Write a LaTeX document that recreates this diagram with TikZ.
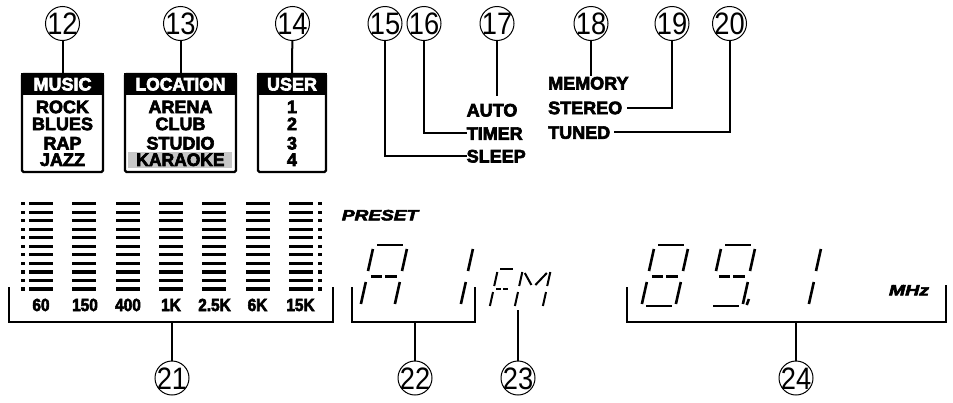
\documentclass[tikz,border=0pt]{standalone}
\usepackage{fontspec}
\setmainfont{Liberation Sans}
\newfontfamily\heavy{Liberation Sans}[UprightFont={* Bold},ItalicFont={* Bold Italic},FakeBold=3.5]
\newcommand\cnum[1]{\makebox[0pt]{\scalebox{0.88}[1]{#1}}}
\newcommand\sxx[2]{\scalebox{#1}[1]{#2}}
% seven-segment pieces (local units: u right, v up)
\newcommand\dsA{\draw (4,61)--(30,61);}
\newcommand\dsB{\draw (34.5,57)--(34,35);}
\newcommand\dsC{\draw (34,24)--(33.5,2);}
\newcommand\dsD{\draw (4,0)--(30,0);}
\newcommand\dsE{\draw (0,24)--(-0.5,2);}
\newcommand\dsF{\draw (0.5,57)--(0,35);}
\newcommand\dsG{\draw (4,29.5)--(15.5,29.5) (18.5,29.5)--(30,29.5);}
\begin{document}
\begin{tikzpicture}[x=1pt,y=-1pt,
  lead/.style={line width=2pt},
  circ/.style={draw, circle, line width=1pt, minimum size=34pt, inner sep=0pt,
    text height=22pt, text depth=0pt, font=\fontsize{31}{31}\selectfont},
  lbl/.style={inner sep=0pt, text height=12.9pt, text depth=0pt,
    font=\heavy\fontsize{18}{18}\selectfont},
  hdr/.style={lbl, text=white},
  eq/.style={inner sep=0pt, text height=12pt, text depth=0pt,
    font=\heavy\fontsize{17.5}{17.5}\selectfont},
  ital/.style={inner sep=0pt, text height=10.7pt, text depth=0pt,
    font=\heavy\itshape\fontsize{15}{15}\selectfont},
  catbox/.style={draw, line width=2.4pt, rounded corners=1.5pt, inner sep=0pt},
  segs/.style={line width=2.6pt},
  ssegs/.style={line width=2pt}]
\useasboundingbox (0,0) rectangle (953,402);

% ---------- category boxes ----------
\node[catbox, minimum width=81pt, minimum height=98pt] (music) at (62.5,123) {};
\node[catbox, minimum width=111pt, minimum height=98pt] (location) at (180.5,123) {};
\node[catbox, minimum width=68pt, minimum height=98pt] (user) at (292,123) {};
\fill (music.north west) rectangle (music.east |- 0,95);
\fill (location.north west) rectangle (location.east |- 0,95);
\fill (user.north west) rectangle (user.east |- 0,95);
\fill[black!22] (128,152) rectangle (232,167.5);

\node[hdr] (hmusic) at (62.5,84) {MUSIC};
\node[hdr] (hloc) at (180.5,84) {\sxx{0.97}{LOCATION}};
\node[hdr] (huser) at (292,84) {USER};

\node[lbl] (rock) at (62.5,106.7) {ROCK};
\node[lbl] (blues) at (62.5,123.7) {BLUES};
\node[lbl] (rap) at (62.5,143) {RAP};
\node[lbl] (jazz) at (62.5,159.5) {JAZZ};

\node[lbl] (arena) at (180.5,106.7) {ARENA};
\node[lbl] (club) at (180.5,123.7) {CLUB};
\node[lbl] (studio) at (180.5,143) {STUDIO};
\node[lbl] (karaoke) at (180.5,159.5) {\sxx{0.97}{KARAOKE}};

\node[lbl] (u1) at (292,106.7) {1};
\node[lbl] (u2) at (292,123.7) {2};
\node[lbl] (u3) at (292,143) {3};
\node[lbl] (u4) at (292,159.5) {4};

% ---------- indicator labels ----------
\node[lbl, anchor=west] (auto) at (466.5,110) {AUTO};
\node[lbl, anchor=west] (timer) at (466.5,133.3) {TIMER};
\node[lbl, anchor=west] (sleep) at (466.5,156) {SLEEP};
\node[lbl, anchor=west] (memory) at (548,83) {MEMORY};
\node[lbl, anchor=west] (stereo) at (548,107.7) {STEREO};
\node[lbl, anchor=west] (tuned) at (548,132.3) {TUNED};

% ---------- circled numbers ----------
\node[circ] (c12) at (62.5,23.5) {\cnum{12}};
\node[circ] (c13) at (180.5,23.5) {\cnum{13}};
\node[circ] (c14) at (292.5,23.5) {\cnum{14}};
\node[circ] (c15) at (385,23.5) {\cnum{15}};
\node[circ] (c16) at (424,23.5) {\cnum{16}};
\node[circ] (c17) at (497,23.5) {\cnum{17}};
\node[circ] (c18) at (591,23.5) {\cnum{18}};
\node[circ] (c19) at (672,23.5) {\cnum{19}};
\node[circ] (c20) at (729.5,23.5) {\cnum{20}};
\node[circ] (c21) at (172,378) {\cnum{21}};
\node[circ] (c22) at (415,378) {\cnum{22}};
\node[circ] (c23) at (518,378) {\cnum{23}};
\node[circ] (c24) at (796,378) {\cnum{24}};

% ---------- top leaders ----------
\draw[lead] (c12) -- (music.north);
\draw[lead] (c13) -- (location.north);
\draw[lead] (c14) -- (user.north);
\draw[lead] (c15) |- (sleep.west);
\draw[lead] (c16) |- (timer.west);
\draw[lead] (c17) -- ([yshift=7pt]c17 |- auto.north);
\draw[lead] (c18) -- (c18 |- memory.north);
\draw[lead] ([xshift=5pt]stereo.east) -| (c19);
\draw[lead] ([xshift=4pt]tuned.east) -| (c20);

% ---------- equalizer ----------
\foreach \i in {0,...,6}
  \foreach \k in {0,...,10}
    \fill (29+43.3*\i,202+8.53*\k) rectangle ++(24,3.3);
\foreach \k in {0,...,10}{
  \fill (20.5,202+8.53*\k) rectangle ++(4.2,3.3);
  \fill (317.5,202+8.53*\k) rectangle ++(4.2,3.3);
}
\node[eq] (f60) at (41,305) {\sxx{0.88}{60}};
\node[eq] (f150) at (85,305) {\sxx{0.88}{150}};
\node[eq] (f400) at (128,305) {\sxx{0.88}{400}};
\node[eq] (f1k) at (171,305) {\sxx{0.88}{1K}};
\node[eq] (f25k) at (214.5,305) {\sxx{0.88}{2.5K}};
\node[eq] (f6k) at (257.5,305) {\sxx{0.88}{6K}};
\node[eq] (f15k) at (300.5,305) {\sxx{0.88}{15K}};

% ---------- PRESET / MHz ----------
\node[ital] (preset) at (380,215) {\sxx{1.27}{PRESET}};
\node[ital] (mhz) at (909,290) {\sxx{1.3}{MHz}};

% ---------- seven-segment digits ----------
\begin{scope}[shift={(361,306)}, x=1pt, y=1pt, xslant=0.2, segs]
  \dsA \dsB \dsC \dsE \dsF \dsG
\end{scope}
\begin{scope}[shift={(427,306)}, x=1pt, y=1pt, xslant=0.2, segs]
  \dsB \dsC
\end{scope}
\begin{scope}[shift={(642,306)}, x=1pt, y=1pt, xslant=0.2, segs]
  \dsA \dsB \dsC \dsD \dsE \dsF \dsG
\end{scope}
\begin{scope}[shift={(709,306)}, x=1pt, y=1pt, xslant=0.2, segs]
  \dsA \dsB \dsC \dsD \dsF \dsG
  \draw (38.5,7)--(37.5,1);
\end{scope}
\begin{scope}[shift={(775,306)}, x=1pt, y=1pt, xslant=0.2, segs]
  \dsB \dsC
\end{scope}
% FM
\begin{scope}[shift={(490,307)}, x=1pt, y=1pt, xslant=0.2, ssegs]
  \draw (2.5,38)--(15,38);
  \draw (0.3,35)--(0,21);
  \draw (2.5,18)--(7.5,18) (9.5,18)--(14.5,18);
  \draw (0,15)--(-0.3,1);
\end{scope}
\begin{scope}[shift={(515,307)}, x=1pt, y=1pt, xslant=0.2, ssegs]
  \draw (0.3,35)--(0,21) (28.3,35)--(28,21);
  \draw (0,15)--(-0.3,1) (28,15)--(27.7,1);
  \draw (3,34)--(12,22) (25,34)--(16,22);
\end{scope}

% ---------- brackets ----------
\coordinate (b21) at (172,322);
\coordinate (b21l) at (9,287);
\coordinate (b21r) at (333,287);
\draw[lead] (b21l) -- (b21l |- b21) -- (b21r |- b21) -- (b21r);
\draw[lead] (b21) -- (c21);

\coordinate (b22) at (415,322);
\coordinate (b22l) at (352,287);
\coordinate (b22r) at (474.5,287);
\draw[lead] (b22l) -- (b22l |- b22) -- (b22r |- b22) -- (b22r);
\draw[lead] (b22) -- (c22);

\coordinate (b23) at (518,310);
\draw[lead] (b23) -- (c23);

\coordinate (b24) at (796,322);
\coordinate (b24l) at (626.5,287);
\coordinate (b24r) at (946,285);
\draw[lead] (b24l) -- (b24l |- b24) -- (b24r |- b24) -- (b24r);
\draw[lead] (b24) -- (c24);
\end{tikzpicture}
\end{document}
